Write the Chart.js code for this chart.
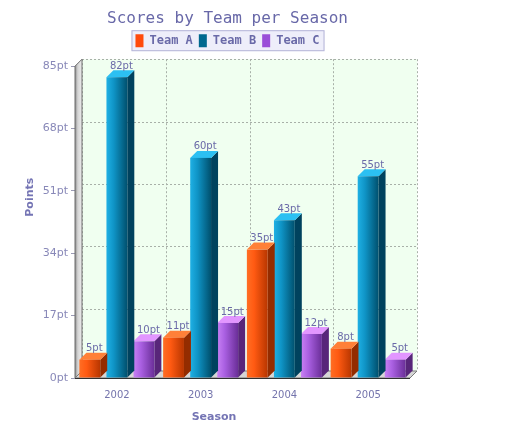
<!doctype html>
<html lang="en">
<head>
    <meta charset="utf-8">
    <title>Scores by Team per Season</title>
    <style>
        * {
            margin: 0;
            padding: 0;
        }

        body {
            background: #fff;
        }

        .chartBox {
            width: 455px;
            height: 431px;
        }
    </style>
</head>
<body>
<div class="chartBox">
    <canvas id="myChart" width="455" height="431"></canvas>
</div>
<script src="https://cdn.jsdelivr.net/npm/chart.js"></script>
<script>
    // data
    const seasons = ['2002', '2003', '2004', '2005'];
    const teamA = [5, 11, 35, 8];
    const teamB = [82, 60, 43, 55];
    const teamC = [10, 15, 12, 5];
    const teamNames = ['Team A', 'Team B', 'Team C'];
    const yTicks = [0, 17, 34, 51, 68, 85];

    // look of each team: legend colour, front gradient, side, top
    const looks = [
        {legend: '#ff4a0c', front: ['#ff6e24', '#ff5a12', '#b83600'], side: '#942c00', top: '#ff8038'},
        {legend: '#00688f', front: ['#1fb0e4', '#0f94c6', '#00506e'], side: '#00425e', top: '#2cc0f2'},
        {legend: '#9a4ed8', front: ['#c880f4', '#aa60e2', '#6a2e98'], side: '#58267a', top: '#e296ff'}
    ];

    const depth = 7;
    const textColor = '#6a6aa8';

    const data = {
        labels: seasons,
        datasets: [teamA, teamB, teamC].map((values, i) => ({
            label: teamNames[i],
            data: values,
            backgroundColor: looks[i].legend,
            borderWidth: 0,
            categoryPercentage: 0.97,
            barPercentage: 0.77
        }))
    };

    // 3d room, bars and labels
    const room3d = {
        id: 'room3d',
        beforeDraw(chart) {
            const {ctx, legend} = chart;
            if (!legend || !legend.legendHitBoxes.length) return;
            const boxes = legend.legendHitBoxes;
            const left = Math.min(...boxes.map(b => b.left)) - 4;
            const right = Math.max(...boxes.map(b => b.left + b.width)) + 5;
            const top = boxes[0].top - 4;
            const bottom = boxes[0].top + boxes[0].height + 4;
            ctx.save();
            ctx.fillStyle = '#eeeefa';
            ctx.strokeStyle = '#b4b4d8';
            ctx.lineWidth = 1;
            ctx.fillRect(left, top, right - left, bottom - top);
            ctx.strokeRect(left + 0.5, top + 0.5, right - left - 1, bottom - top - 1);
            ctx.restore();
        },
        beforeDatasetsDraw(chart) {
            const {ctx, chartArea: {top, bottom, left, right}, scales: {x, y}} = chart;
            const d = depth;
            ctx.save();

            // back plane
            ctx.fillStyle = '#f0fff0';
            ctx.fillRect(left + d, top - d, right - left, bottom - top);

            // dotted grid on the back plane
            ctx.strokeStyle = '#a8b0a8';
            ctx.lineWidth = 1;
            ctx.setLineDash([2, 2]);
            ctx.beginPath();
            yTicks.forEach(v => {
                const py = Math.round(y.getPixelForValue(v) - d) + 0.5;
                ctx.moveTo(left + d, py);
                ctx.lineTo(right + d, py);
            });
            const step = (right - left) / seasons.length;
            for (let i = 0; i <= seasons.length; i++) {
                const px = Math.round(left + d + i * step) + 0.5;
                ctx.moveTo(px, top - d);
                ctx.lineTo(px, bottom - d);
            }
            ctx.stroke();
            ctx.setLineDash([]);

            // left wall
            const wall = ctx.createLinearGradient(left, 0, left + d, 0);
            wall.addColorStop(0, '#8c8c8c');
            wall.addColorStop(0.4, '#d4d4d4');
            wall.addColorStop(1, '#eeeeee');
            ctx.fillStyle = wall;
            ctx.beginPath();
            ctx.moveTo(left, top);
            ctx.lineTo(left + d, top - d);
            ctx.lineTo(left + d, bottom - d);
            ctx.lineTo(left, bottom);
            ctx.closePath();
            ctx.fill();
            ctx.strokeStyle = '#6c6c6c';
            ctx.stroke();

            // floor
            ctx.fillStyle = '#d6d6d6';
            ctx.beginPath();
            ctx.moveTo(left, bottom);
            ctx.lineTo(right, bottom);
            ctx.lineTo(right + d, bottom - d);
            ctx.lineTo(left + d, bottom - d);
            ctx.closePath();
            ctx.fill();
            ctx.strokeStyle = '#7a7a7a';
            ctx.stroke();
            ctx.strokeStyle = '#303030';
            ctx.beginPath();
            ctx.moveTo(left, bottom + 0.5);
            ctx.lineTo(right, bottom + 0.5);
            ctx.stroke();
            ctx.restore();
        },
        beforeDatasetDraw(chart, args) {
            const {ctx} = chart;
            const look = looks[args.index];
            const d = depth;
            ctx.save();
            args.meta.data.forEach(bar => {
                const {x, y, base, width} = bar.getProps(['x', 'y', 'base', 'width'], true);
                const x0 = x - width / 2;
                const x1 = x + width / 2;

                // side face
                ctx.fillStyle = look.side;
                ctx.beginPath();
                ctx.moveTo(x1, y);
                ctx.lineTo(x1 + d, y - d);
                ctx.lineTo(x1 + d, base - d);
                ctx.lineTo(x1, base);
                ctx.closePath();
                ctx.fill();

                // top face
                ctx.fillStyle = look.top;
                ctx.beginPath();
                ctx.moveTo(x0, y);
                ctx.lineTo(x0 + d, y - d);
                ctx.lineTo(x1 + d, y - d);
                ctx.lineTo(x1, y);
                ctx.closePath();
                ctx.fill();

                // front face
                const g = ctx.createLinearGradient(x0, 0, x1, 0);
                g.addColorStop(0, look.front[0]);
                g.addColorStop(0.35, look.front[1]);
                g.addColorStop(1, look.front[2]);
                ctx.fillStyle = g;
                ctx.fillRect(x0, y, width, base - y);
            });
            ctx.restore();
            return false;
        },
        afterDatasetsDraw(chart) {
            const {ctx, chartArea: {top, bottom, left}} = chart;
            ctx.save();
            ctx.fillStyle = textColor;
            ctx.font = '10px "DejaVu Sans"';
            ctx.textAlign = 'center';
            ctx.textBaseline = 'bottom';
            chart.data.datasets.forEach((ds, i) => {
                chart.getDatasetMeta(i).data.forEach((bar, j) => {
                    ctx.fillText(ds.data[j] + 'pt', bar.x + depth / 2 + 1, bar.y - depth + 1);
                });
            });

            // axis titles
            ctx.font = 'bold 11px "DejaVu Sans"';
            ctx.textBaseline = 'middle';
            ctx.fillStyle = '#7474b4';
            ctx.fillText('Season', left + 139, bottom + 39);
            ctx.translate(30, top + 131);
            ctx.rotate(-Math.PI / 2);
            ctx.fillText('Points', 0, 0);
            ctx.restore();
        }
    };

    // config
    const config = {
        type: 'bar',
        data,
        options: {
            responsive: false,
            animation: false,
            layout: {padding: 0},
            scales: {
                x: {
                    grid: {display: false},
                    border: {display: false},
                    ticks: {
                        color: '#7474ac',
                        font: {family: 'DejaVu Sans', size: 10},
                        padding: 3
                    },
                    afterFit(scale) {
                        scale.height = 53;
                    }
                },
                y: {
                    min: 0,
                    max: 85,
                    border: {display: false},
                    grid: {
                        drawOnChartArea: false,
                        tickLength: 4,
                        color: '#9a9ab4'
                    },
                    ticks: {
                        stepSize: 17,
                        color: '#8888b8',
                        font: {family: 'DejaVu Sans', size: 11},
                        padding: 3,
                        callback: v => v + 'pt'
                    },
                    afterFit(scale) {
                        scale.width = 75;
                    }
                },
                topGap: {
                    type: 'linear',
                    axis: 'x',
                    position: 'top',
                    grid: {display: false},
                    border: {display: false},
                    ticks: {display: false},
                    afterFit(scale) {
                        scale.height = 9;
                    }
                },
                rightGap: {
                    type: 'linear',
                    axis: 'y',
                    position: 'right',
                    grid: {display: false},
                    border: {display: false},
                    ticks: {display: false},
                    afterFit(scale) {
                        scale.width = 45;
                    }
                }
            },
            plugins: {
                title: {
                    display: true,
                    text: 'Scores by Team per Season',
                    color: '#6868a8',
                    font: {family: 'DejaVu Sans Mono', size: 16, weight: 'normal'},
                    padding: {top: 9, bottom: 0}
                },
                legend: {
                    labels: {
                        boxWidth: 8,
                        boxHeight: 13,
                        padding: 6,
                        color: textColor,
                        font: {family: 'DejaVu Sans Mono', size: 12, weight: 'bold'}
                    }
                },
                tooltip: {enabled: false}
            }
        },
        plugins: [room3d]
    };

    // render init block
    const myChart = new Chart(
        document.getElementById('myChart'),
        config
    );
</script>

</body>
</html>
